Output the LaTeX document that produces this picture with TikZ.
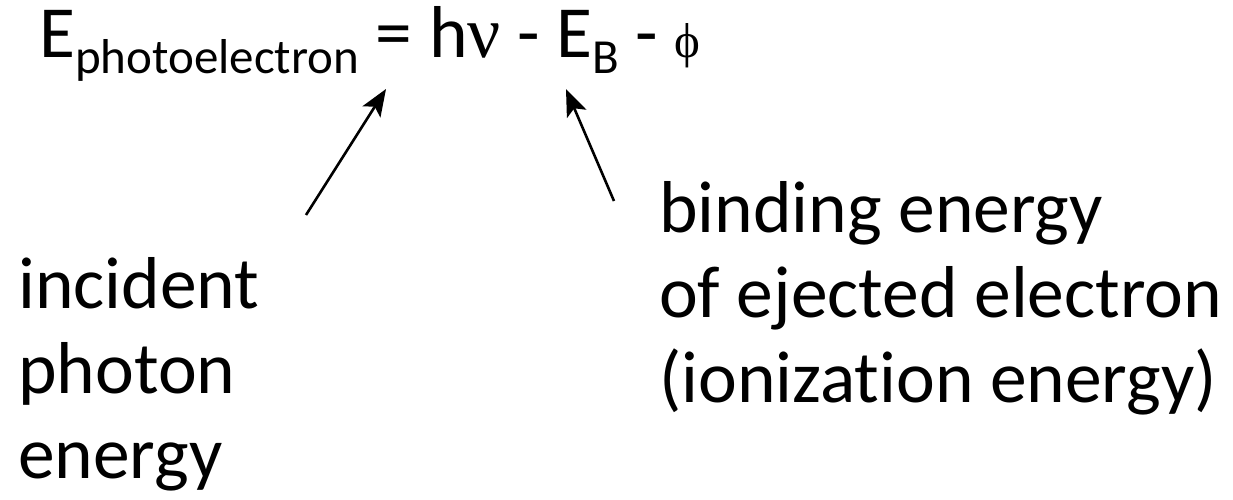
\documentclass[tikz,border=0pt]{standalone}
\usepackage{fontspec}
\setmainfont{Carlito}[Ligatures=NoCommon]
\newfontfamily\greekfont{Liberation Serif}
\usetikzlibrary{arrows.meta, positioning}
\tikzset{
  eqtext/.style={anchor=base west, inner sep=0pt, font=\fontsize{73.5}{85}\selectfont},
  lbltext/.style={eqtext, align=left},
  callout/.style={-{Stealth[length=27pt, width=21pt, inset=6pt]}, line width=2.6pt, black},
}
\newcommand{\subtxt}[1]{\raisebox{-16pt}{\fontsize{49}{49}\selectfont #1}}

\begin{document}
\begin{tikzpicture}[x=1pt, y=-1pt]
    \useasboundingbox (0,0) rectangle (1233,500);
    % Gleichung
    \node[eqtext] (eq) at (39,58)
      {E\subtxt{photoelectron} = h{\greekfont ν} - E\subtxt{B} - {\fontsize{49}{49}\selectfont\greekfont ϕ}};
    % Beschriftungen (base = letzte Zeile)
    \node[lbltext] (photon) at (18,478) {incident\\photon\\energy};
    \node[lbltext] (binding) at (659,402) {binding energy\\of ejected electron\\(ionization energy)};
    % Pfeilenden
    \coordinate (nutail) at (306,215);
    \coordinate (nutip) at (386,89);
    \coordinate (ebtail) at (614,201);
    \coordinate (ebtip) at (566,89);
    % Pfeile
    \draw[callout] (nutail) -- (nutip);
    \draw[callout] (ebtail) -- (ebtip);
\end{tikzpicture}
\end{document}
